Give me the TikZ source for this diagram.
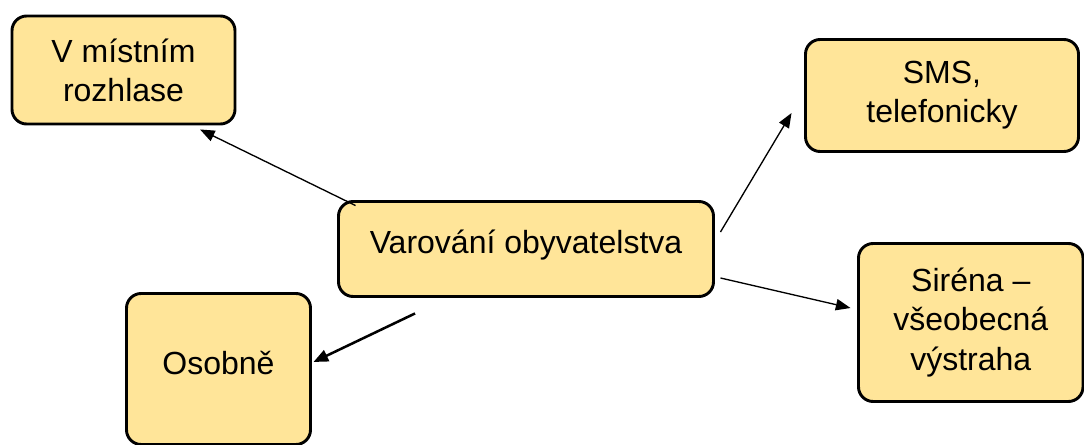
\documentclass[tikz,border=0pt]{standalone}
\usepackage{fontspec}
\setmainfont{Liberation Sans}
\usetikzlibrary{arrows.meta,calc}
\definecolor{boxfill}{HTML}{FFE599}
\begin{document}
\begin{tikzpicture}[x=0.75pt,y=-0.75pt,
  box/.style={draw=black, line width=2.2pt, fill=boxfill, rounded corners=11pt,
    align=center, inner sep=0pt, font=\fontsize{24}{29.3}\selectfont},
  conn/.style={draw=black, line width=1pt, -{Triangle[length=11pt,width=8.5pt]}},
  connthick/.style={draw=black, line width=1.9pt, -{Triangle[length=11pt,width=9pt]}}]
\useasboundingbox (0,0) rectangle (1084,445);
\node[box, minimum width=167.25pt, minimum height=81pt] (vm) at (123.5,70) {V místním\\rozhlase};
\node[box, minimum width=204.75pt, minimum height=84pt] (sms) at (942,95.5) {SMS,\\telefonicky};
\node[box, minimum width=281.25pt, minimum height=71.25pt, text depth=11pt] (main) at (526,249) {Varování obyvatelstva};
\node[box, minimum width=168.4pt, minimum height=118.5pt] (sir) at (970.75,322.5) {Siréna –\\všeobecná\\výstraha};
\node[box, minimum width=138pt, minimum height=113.25pt, text depth=9pt] (os) at (218.5,369) {Osobně};
\draw[conn] ($(main.north west)+(18.5,5.5)$) -- ($(vm.south)+(76.5,4)$);
\draw[conn] ($(main.east)+(5.5,-17)$) -- ($(sms.west)+(-12.5,17.5)$);
\draw[conn] ($(main.east)+(5.5,29)$) -- ($(sir.west)+(-6.5,-14.5)$);
\draw[connthick] ($(main.south)+(-111,15.5)$) -- ($(os.east)+(1.5,-7)$);
\end{tikzpicture}
\end{document}
